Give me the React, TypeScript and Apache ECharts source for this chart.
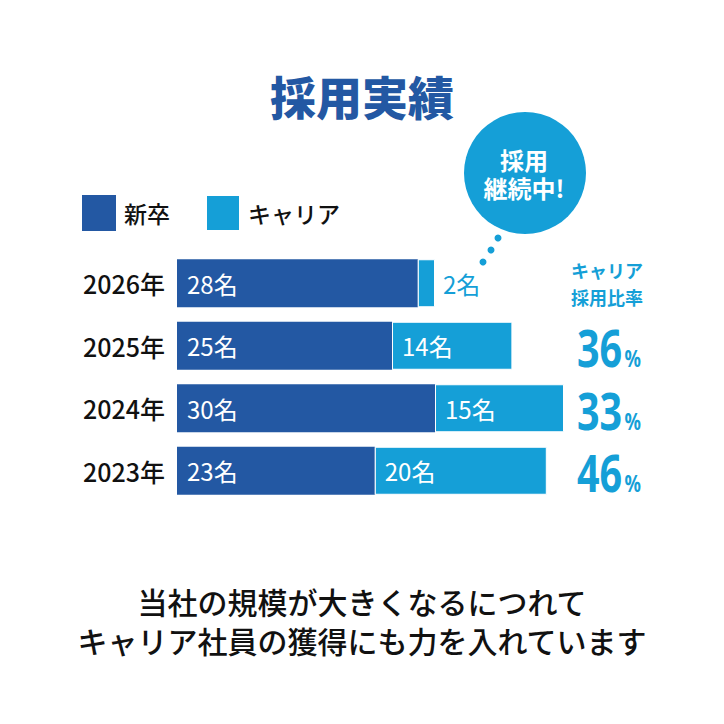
import React, { useEffect, useRef } from "react";
import * as echarts from "echarts";

const years = ["2023年", "2024年", "2025年", "2026年"];
const newGrad = [23, 30, 25, 28];
const career = [20, 15, 14, 2];
const careerRatio = ["46", "33", "36", ""];
const legendNames = ["新卒", "キャリア"];
const title = "採用実績";
const bubbleLines = ["採用", "継続中!"];
const ratioTitle = ["キャリア", "採用比率"];
const message = ["当社の規模が大きくなるにつれて", "キャリア社員の獲得にも力を入れています"];

const DARK = "#2358a3";
const LIGHT = "#159fd7";
const FONT = "'Noto Sans CJK JP', 'Noto Sans', sans-serif";

export default function App() {
  const ref = useRef<HTMLDivElement>(null);
  useEffect(() => {
    if (!ref.current) return;
    const chart = echarts.init(ref.current, null, { renderer: "svg" });
    const barLabel = {
      show: true,
      position: "insideLeft",
      distance: 10,
      formatter: "{c}名",
      color: "#fff",
      fontSize: 24,
      fontFamily: FONT,
    };
    const option: any = {
      animation: false,
      textStyle: { fontFamily: FONT },
      legend: {
        data: legendNames,
        left: 82,
        top: 194,
        padding: 0,
        icon: "rect",
        itemWidth: 34,
        itemHeight: 36,
        itemGap: 35,
        selectedMode: false,
        textStyle: { fontSize: 23, color: "#111", fontFamily: FONT, fontWeight: 500, padding: [0, 0, 0, 3] },
      },
      grid: { left: 177, top: 252, width: 430, height: 250, containLabel: false },
      xAxis: { type: "value", min: 0, max: 50, show: false },
      yAxis: {
        type: "category",
        data: years,
        axisLine: { show: false },
        axisTick: { show: false },
        axisLabel: { fontSize: 25, color: "#111", fontWeight: 500, margin: 12, fontFamily: FONT },
      },
      series: [
        {
          name: legendNames[0],
          type: "bar",
          stack: "total",
          barWidth: 48,
          itemStyle: { color: DARK },
          label: barLabel,
          data: newGrad,
        },
        {
          name: legendNames[1],
          type: "bar",
          stack: "total",
          barWidth: 48,
          itemStyle: { color: LIGHT, borderColor: "#fff", borderWidth: 1 },
          label: barLabel,
          data: career.map((v) =>
            v < 5
              ? { value: v, label: { position: "right", distance: 8, color: LIGHT } }
              : v
          ),
        },
      ],
    };
    chart.setOption(option);

    const ratioGraphics = careerRatio
      .map((r, i) => {
        if (!r) return null;
        const y = chart.convertToPixel({ yAxisIndex: 0 }, years[i]) as number;
        return {
          type: "text",
          x: 577,
          y: y + 2,
          scaleX: 0.76,
          style: {
            text: `{n|${r}}{p|%}`,
            fill: LIGHT,
            align: "left",
            verticalAlign: "middle",
            rich: {
              n: { fontSize: 52, fontWeight: "bold", fontFamily: "'Noto Sans', sans-serif", lineHeight: 52, color: LIGHT },
              p: {
                fontSize: 24,
                fontWeight: "bold",
                fontFamily: "'Noto Sans', sans-serif",
                color: LIGHT,
                verticalAlign: "bottom",
                lineHeight: 24,
                padding: [0, 0, 4, 3],
              },
            },
          },
        };
      })
      .filter(Boolean);

    const centerText = (text: string, x: number, y: number, size: number, fill: string, weight: any, lh?: number) => ({
      type: "text",
      x,
      y,
      style: {
        text,
        fill,
        fontSize: size,
        fontWeight: weight,
        fontFamily: FONT,
        align: "center",
        verticalAlign: "middle",
        lineHeight: lh || size,
      },
    });

    chart.setOption({
      graphic: [
        centerText(title, 362, 95, 46, DARK, 900),
        { type: "circle", shape: { cx: 525, cy: 173, r: 61 }, style: { fill: LIGHT } },
        { type: "circle", shape: { cx: 498, cy: 238, r: 3.5 }, style: { fill: LIGHT } },
        { type: "circle", shape: { cx: 491, cy: 250, r: 3.5 }, style: { fill: LIGHT } },
        { type: "circle", shape: { cx: 483, cy: 262, r: 3.5 }, style: { fill: LIGHT } },
        centerText(bubbleLines.join("\n"), 524, 173, 24, "#fff", "bold", 28),
        centerText(ratioTitle.join("\n"), 607, 283.5, 18, LIGHT, "bold", 27),
        ...ratioGraphics,
        centerText(message.join("\n"), 362, 620.5, 30, "#111", 500, 39),
      ],
    });
    return () => chart.dispose();
  }, []);
  return (
    <div
      ref={ref}
      style={{ position: "fixed", left: 0, top: 0, width: 724, height: 724, background: "#fff" }}
    />
  );
}
